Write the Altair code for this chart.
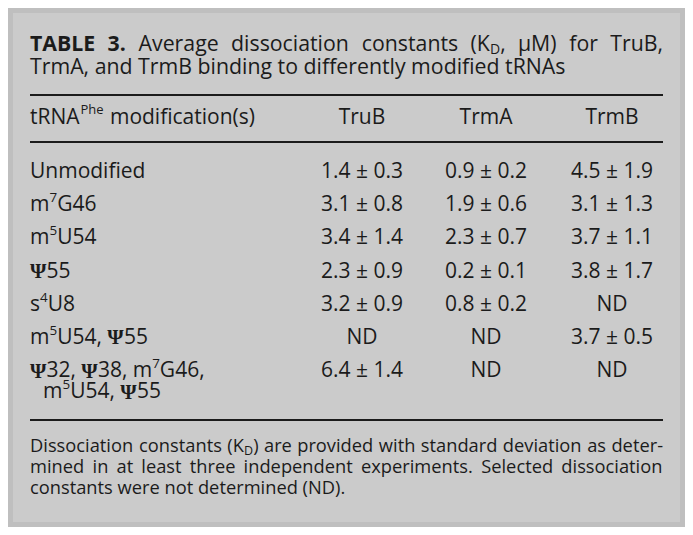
import altair as alt
import pandas as pd

# ---------------- content ----------------
# markup: "_X" = subscript character X, "^X" = superscript character X
title_label = "TABLE 3."
title_line1 = "Average dissociation constants (K_D, μM) for TruB,"
title_line2 = "TrmA, and TrmB binding to differently modified tRNAs"

header_base = "tRNA"
header_sup = "Phe"
header_rest = "modification(s)"
enzymes = ["TruB", "TrmA", "TrmB"]

modifications = ["Unmodified", "m^7G46", "m^5U54", "Ψ55", "s^4U8",
                 "m^5U54, Ψ55", "Ψ32, Ψ38, m^7G46,"]
modification_cont = "m^5U54, Ψ55"
trub = ["1.4 ± 0.3", "3.1 ± 0.8", "3.4 ± 1.4", "2.3 ± 0.9", "3.2 ± 0.9", "ND", "6.4 ± 1.4"]
trma = ["0.9 ± 0.2", "1.9 ± 0.6", "2.3 ± 0.7", "0.2 ± 0.1", "0.8 ± 0.2", "ND", "ND"]
trmb = ["4.5 ± 1.9", "3.1 ± 1.3", "3.7 ± 1.1", "3.8 ± 1.7", "ND", "3.7 ± 0.5", "ND"]

foot_line1 = "Dissociation constants (K_D) are provided with standard deviation as deter-"
foot_line2 = "mined in at least three independent experiments. Selected dissociation"
foot_line3 = "constants were not determined (ND)."

# ---------------- layout ----------------
FONT = "Open Sans"
SERIF = "Liberation Serif"
INK = "#1b1b1b"
PANEL = "#cbcbcb"
OUTER = "#bfbfbf"
X0, Y0 = 13, 13          # panel origin on the page
W, H = 667, 509          # panel size
LEFT, RIGHT = 30, 663
COL_X = [362, 486, 612]
ROW_Y0, ROW_DY = 172, 33.2

# approximate Open Sans advance widths (per 1000 em), used for justification
CW = dict(zip("abcdefghijklmnopqrstuvwxyz",
              [556, 613, 480, 613, 561, 336, 547, 613, 258, 258, 525, 258, 930,
               613, 604, 613, 613, 408, 479, 353, 613, 500, 778, 523, 500, 465]))
CW.update(dict(zip("ABCDEFGHIKLMNOPRSTU",
                   [633, 648, 631, 729, 556, 516, 726, 738, 279, 619, 519, 907,
                    763, 779, 602, 627, 549, 556, 731])))
CW.update({c: 572 for c in "0123456789±"})
CW.update({" ": 260, ",": 250, ".": 266, "-": 322, "(": 297, ")": 297, "μ": 625})
CW_SERIF = {"Ψ": 790}

records = []


def add(text, x, y, size, weight="normal", align="left", font=FONT):
    records.append(dict(text=text, x=x - X0, y=y - Y0, size=size,
                        weight=weight, align=align, font=font))


def tw(s, size, weight="normal", font=FONT):
    table = CW_SERIF if font == SERIF else CW
    f = 1.05 if (weight == "bold" and font == FONT) else 1.0
    return sum(table.get(c, 560) for c in s) / 1000 * size * f


def rich(word, size, weight="normal", sub_size=None, sup_size=None):
    """split text into segments (text, size, weight, dy, font)."""
    sub_size = sub_size or size * 0.66
    sup_size = sup_size or size * 0.64
    out, buf, i = [], "", 0

    def flush():
        nonlocal buf
        if buf:
            out.append((buf, size, weight, 0, FONT))
            buf = ""

    while i < len(word):
        c = word[i]
        if c in "_^" and i + 1 < len(word):
            flush()
            if c == "_":
                out.append((word[i + 1], sub_size, weight, size * 0.24, FONT))
            else:
                out.append((word[i + 1], sup_size, weight, -size * 0.33, FONT))
            i += 2
        elif c == "Ψ":
            flush()
            out.append((c, size * 1.0, "bold", size * 0.02, SERIF))
            i += 1
        else:
            buf += c
            i += 1
    flush()
    return out


def seg_width(segs):
    return sum(tw(t, s, w, f) for t, s, w, _, f in segs)


def place(segs, x, y):
    for t, s, w, dy, f in segs:
        add(t, x, y + dy, s, w, font=f)
        x += tw(t, s, w, f)


def justify(tokens, y, left=LEFT, right=RIGHT):
    widths = [seg_width(tok) for tok in tokens]
    gap = (right - left - sum(widths)) / (len(tokens) - 1)
    x = left
    for k, (tok, wd) in enumerate(zip(tokens, widths)):
        if k == len(tokens) - 1:
            x = right - wd
        place(tok, x, y)
        x += wd + gap


def line_tokens(text, size, weight="normal", sub_size=None):
    return [rich(wd, size, weight, sub_size) for wd in text.split(" ")]


TS = 21.3
TY1, TY2 = 45, 68
justify(line_tokens(title_label, TS, "bold") + line_tokens(title_line1, TS, sub_size=14), TY1)
add(title_line2, LEFT, TY2, TS)

BS = 21
HY = 118
add(header_base, LEFT, HY, BS)
hx = LEFT + tw(header_base, BS) + 0.5
add(header_sup, hx, HY - 8, 13)
add(header_rest, hx + tw(header_sup, 13) + tw(" ", BS) + 1, HY, BS)
for e, cx in zip(enzymes, COL_X):
    add(e, cx, HY, BS, align="center")

cols = [trub, trma, trmb]
for i, m in enumerate(modifications):
    y = ROW_Y0 + i * ROW_DY
    place(rich(m, BS), LEFT, y)
    for vals, cx in zip(cols, COL_X):
        add(vals[i], cx, y, BS, align="center")
place(rich(modification_cont, BS), 43, ROW_Y0 + 6 * ROW_DY + 21)

FS = 18.3
justify(line_tokens(foot_line1, FS, sub_size=12.5), 447)
justify(line_tokens(foot_line2, FS), 468)
add(foot_line3, LEFT, 489, FS)

texts = pd.DataFrame(records)
rules = pd.DataFrame({"x": [LEFT - X0] * 3, "x2": [RIGHT - X0] * 3,
                      "y": [95 - Y0, 142 - Y0, 420 - Y0]})

xs = alt.Scale(domain=[0, W], nice=False, zero=False)
ys = alt.Scale(domain=[0, H], nice=False, zero=False, reverse=True)

layers = [
    alt.Chart(rules).mark_rule(color=INK, strokeWidth=2.2).encode(
        x=alt.X("x:Q", scale=xs, axis=None),
        x2="x2:Q",
        y=alt.Y("y:Q", scale=ys, axis=None),
    )
]
for (align, weight, font), grp in texts.groupby(["align", "weight", "font"]):
    layers.append(
        alt.Chart(grp).mark_text(
            align=align, baseline="middle", font=font, fontWeight=weight, color=INK
        ).encode(
            x=alt.X("x:Q", scale=xs, axis=None),
            y=alt.Y("y:Q", scale=ys, axis=None),
            text="text:N",
            size=alt.Size("size:Q", scale=None, legend=None),
        )
    )

chart = alt.layer(*layers).properties(
    width=W, height=H,
    padding={"left": 5, "top": 5, "right": 5, "bottom": 5},
    autosize=alt.AutoSizeParams(type="none"),
    background=OUTER,
).configure_view(stroke=None, fill=PANEL)

chart.save("out.html", embed_options={"renderer": "svg", "actions": False})
